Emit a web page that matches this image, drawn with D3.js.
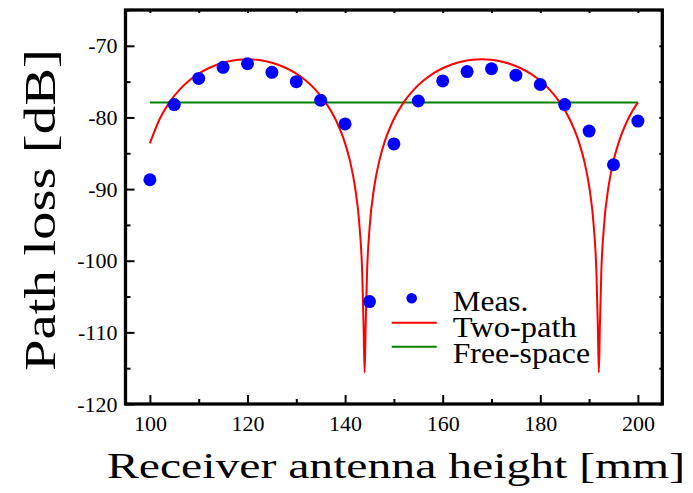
<html>
  <head>
    <meta charset="utf-8" />
    <script src="https://cdn.jsdelivr.net/npm/d3@7"></script>
    <style>
      body { margin: 0; background: #fff; }
    </style>
  </head>
  <body>
    <div id="container"></div>
    <script>
      // measured points
      const measH = [100, 105, 110, 115, 120, 125, 130, 135, 140, 145, 150,
        155, 160, 165, 170, 175, 180, 185, 190, 195, 200];
      const measLoss = [-88.7, -78.2, -74.55, -73.0, -72.5, -73.7, -75.0, -77.6,
        -80.9, -105.7, -83.7, -77.7, -74.9, -73.6, -73.2, -74.1, -75.4, -78.2,
        -81.9, -86.6, -80.5];

      // two-path model curve
      const twoPathH = [100, 102, 104, 106, 108, 110, 112, 114, 116, 118, 120,
        122, 124, 126, 128, 130, 132, 134, 136, 138, 140, 141, 142, 143, 143.5,
        143.8, 144, 144.2, 144.5, 145, 146, 147, 148, 150, 152, 154, 156, 158,
        160, 162, 164, 166, 168, 170, 172, 174, 176, 178, 180, 182, 184, 186,
        188, 189, 190, 191, 191.5, 191.8, 192, 192.2, 192.5, 193, 194, 195,
        196, 198, 200];
      const twoPathLoss = [-83.62, -80.22, -77.9, -76.19, -74.89, -73.89, -73.13,
        -72.57, -72.18, -71.95, -71.88, -71.95, -72.18, -72.57, -73.13, -73.89,
        -74.89, -76.19, -77.9, -80.22, -83.62, -86.07, -89.57, -95.57, -101.58,
        -109.54, -115.6, -109.54, -101.58, -95.57, -89.57, -86.07, -83.62,
        -80.22, -77.9, -76.19, -74.89, -73.89, -73.13, -72.57, -72.18, -71.95,
        -71.88, -71.95, -72.18, -72.57, -73.13, -73.89, -74.89, -76.19, -77.9,
        -80.22, -83.62, -86.07, -89.57, -95.57, -101.58, -109.54, -115.6,
        -109.54, -101.58, -95.57, -89.57, -86.07, -83.62, -80.22, -77.9];

      const freeH = [100, 200];
      const freeLoss = [-77.9, -77.9];

      const xMajor = [100, 120, 140, 160, 180, 200];
      const xMinor = [110, 130, 150, 170, 190];
      const xAll = [100, 110, 120, 130, 140, 150, 160, 170, 180, 190, 200];
      const yMajor = [-120, -110, -100, -90, -80, -70];
      const yMinor = [-115, -105, -95, -85, -75, -65];
      const yAll = [-120, -115, -110, -105, -100, -95, -90, -85, -80, -75, -70, -65];

      const legendNames = ["Meas.", "Two-path", "Free-space"];
      const legendWidths = [75.6, 124, 137.3];

      const W = 693, H = 493;
      const pLeft = 125.5, pRight = 662.3, pTop = 10, pBottom = 404;
      const serif = "'Liberation Serif', 'Times New Roman', Times, serif";

      const svg = d3.select("#container").append("svg")
        .attr("width", W).attr("height", H);

      const x = d3.scaleLinear().domain([95, 205]).range([pLeft, pRight]);
      const y = d3.scaleLinear().domain([-120, -65]).range([pBottom, pTop]);

      const fmt = (d) => String(d);

      // axes, ticks pointing inward
      const gx = svg.append("g").attr("transform", `translate(0,${pBottom})`);
      gx.call(d3.axisBottom(x).tickValues(xMajor).tickSize(-9).tickPadding(11).tickFormat(fmt));
      gx.append("g").call(d3.axisBottom(x).tickValues(xMinor).tickSize(-5).tickFormat(""));

      const gy = svg.append("g").attr("transform", `translate(${pLeft},0)`);
      gy.call(d3.axisLeft(y).tickValues(yMajor).tickSize(-9).tickPadding(8).tickFormat(fmt));
      gy.append("g").call(d3.axisLeft(y).tickValues(yMinor).tickSize(-5).tickFormat(""));

      svg.append("g").attr("transform", `translate(0,${pTop})`)
        .call(d3.axisTop(x).tickValues(xAll).tickSize(-3).tickFormat(""));
      svg.append("g").attr("transform", `translate(${pRight},0)`)
        .call(d3.axisRight(y).tickValues(yAll).tickSize(-3).tickFormat(""));

      svg.selectAll(".domain").remove();
      svg.selectAll(".tick line").attr("stroke", "#000").attr("stroke-width", 2);
      svg.selectAll(".tick text")
        .attr("fill", "#000")
        .attr("font-family", serif)
        .attr("font-size", 22);

      // curves
      const line = d3.line()
        .x((d) => x(d[0]))
        .y((d) => y(d[1]));

      svg.append("path")
        .attr("d", line(d3.zip(freeH, freeLoss)))
        .attr("fill", "none")
        .attr("stroke", "#008000")
        .attr("stroke-width", 2);

      svg.append("path")
        .attr("d", line.curve(d3.curveMonotoneX)(d3.zip(twoPathH, twoPathLoss)))
        .attr("fill", "none")
        .attr("stroke", "#ff0000")
        .attr("stroke-width", 2);

      svg.append("g").selectAll("circle")
        .data(d3.zip(measH, measLoss))
        .join("circle")
        .attr("cx", (d) => x(d[0]))
        .attr("cy", (d) => y(d[1]))
        .attr("r", 6.5)
        .attr("fill", "#0000ff");

      // frame
      svg.append("rect")
        .attr("x", pLeft).attr("y", pTop)
        .attr("width", pRight - pLeft).attr("height", pBottom - pTop)
        .attr("fill", "none")
        .attr("stroke", "#000")
        .attr("stroke-width", 3.3);

      // legend
      const lg = svg.append("g");
      lg.append("circle").attr("cx", 411.7).attr("cy", 298.3).attr("r", 5.3).attr("fill", "#0000ff");
      lg.append("line").attr("x1", 391.7).attr("x2", 436.7).attr("y1", 322.7).attr("y2", 322.7)
        .attr("stroke", "#ff0000").attr("stroke-width", 2);
      lg.append("line").attr("x1", 391.7).attr("x2", 436.7).attr("y1", 346.7).attr("y2", 346.7)
        .attr("stroke", "#008000").attr("stroke-width", 2);
      lg.selectAll("text")
        .data(legendNames)
        .join("text")
        .attr("x", 452.7)
        .attr("y", (d, i) => 310.7 + i * 26.3)
        .attr("font-family", serif)
        .attr("font-size", 29)
        .attr("textLength", (d, i) => legendWidths[i])
        .attr("lengthAdjust", "spacingAndGlyphs")
        .text((d) => d);

      // axis titles
      svg.append("text")
        .attr("x", 396).attr("y", 478)
        .attr("text-anchor", "middle")
        .attr("textLength", 578)
        .attr("lengthAdjust", "spacingAndGlyphs")
        .attr("font-family", serif)
        .attr("font-size", 35)
        .text("Receiver antenna height [mm]");

      svg.append("text")
        .attr("transform", "translate(55,210) rotate(-90)")
        .attr("text-anchor", "middle")
        .attr("textLength", 322)
        .attr("lengthAdjust", "spacingAndGlyphs")
        .attr("font-family", serif)
        .attr("font-size", 45)
        .text("Path loss [dB]");
    </script>
  </body>
</html>
